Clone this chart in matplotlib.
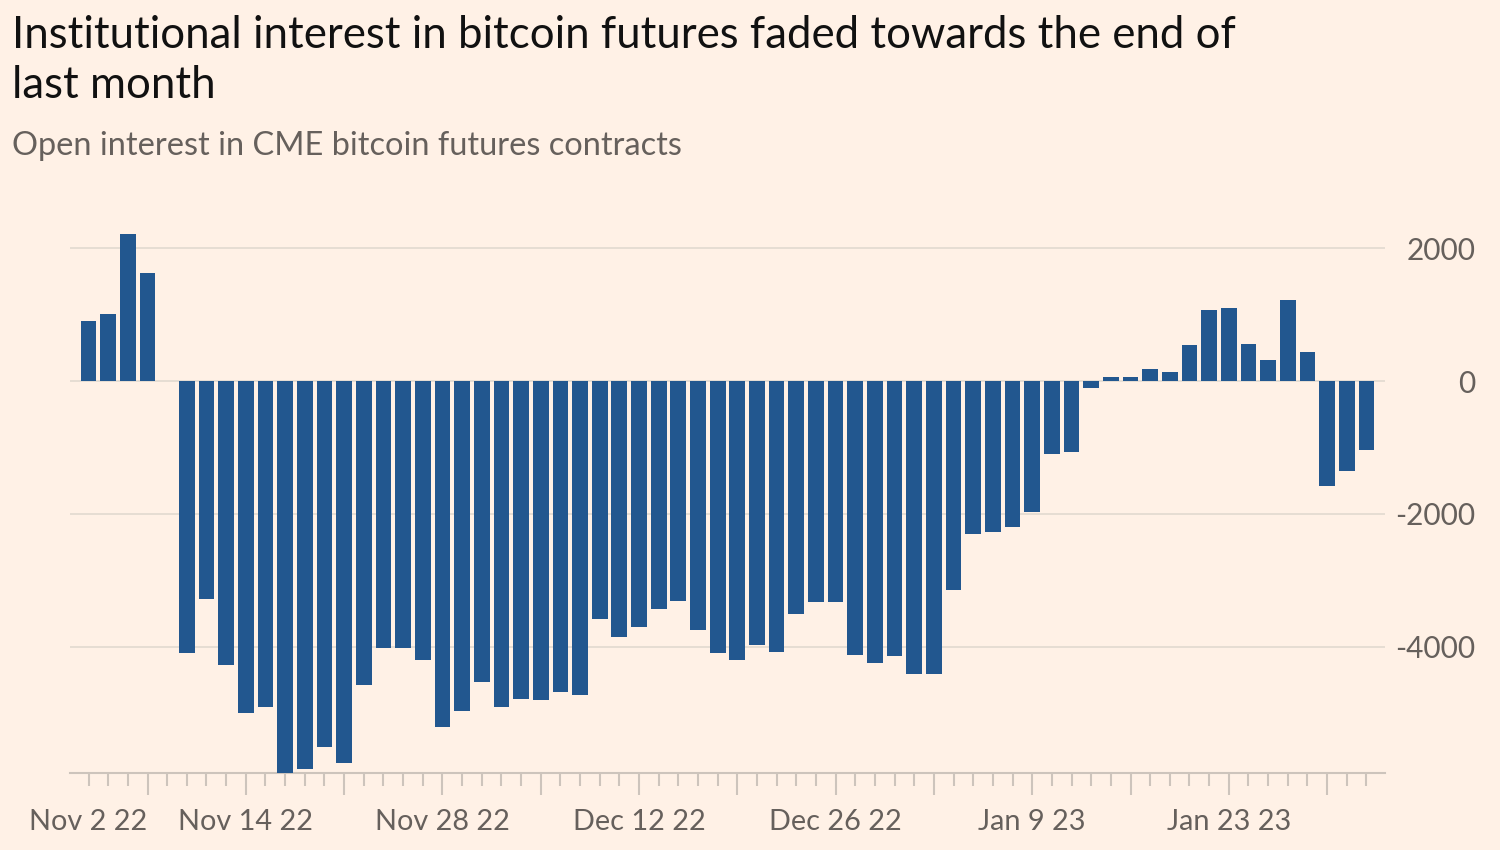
import numpy as np
import pandas as pd
import matplotlib.pyplot as plt

# daily change in open interest, CME bitcoin futures (business days Nov 2 22 .. Feb 1 23)
dates = pd.bdate_range('2022-11-02', '2023-02-01')
values = [899, 1014, 2219, 1625, np.nan, -4087, -3280, -4277, -4997, -4911,
          -5902, -5833, -5516, -5747, -4582, -4017, -4017, -4202, -5205, -4969,
          -4536, -4911, -4784, -4807, -4680, -4727, -3585, -3845, -3700, -3424,
          -3303, -3741, -4092, -4202, -3977, -4075, -3504, -3320, -3320, -4121,
          -4248, -4144, -4404, -4404, -3141, -2300, -2265, -2190, -1971, -1101,
          -1066, -98, 63, 63, 190, 133, 548, 1066, 1095, 553,
          323, 1228, 432, -1585, -1349, -1032]
label_dates = ['2022-11-02', '2022-11-14', '2022-11-28', '2022-12-12',
               '2022-12-26', '2023-01-09', '2023-01-23']
yticks = [-4000, -2000, 0, 2000]

title_lines = ['Institutional interest in bitcoin futures faded towards the end of',
               'last month']
subtitle = 'Open interest in CME bitcoin futures contracts'

BG = '#fff1e6'
BAR = '#22578f'
GRID = '#e4dbd2'
AXIS = '#cdc4bc'
TXT = '#66605c'


def main():
    plt.rcParams['font.family'] = ['Lato', 'DejaVu Sans']
    plt.rcParams['axes.unicode_minus'] = False

    fig = plt.figure(figsize=(15, 8.5), dpi=100, facecolor=BG)
    ax = fig.add_axes([0.0467, 0.0906, 0.8767, 0.6407], facecolor=BG)

    x = np.arange(len(dates))
    ax.bar(x, values, width=0.8, color=BAR, zorder=3)

    ax.set_xlim(-0.94, 65.95)
    ax.set_ylim(-5900, 2300)

    # y axis on the right, gridlines only
    ax.yaxis.tick_right()
    ax.set_yticks(yticks)
    ax.set_yticklabels([str(v) for v in yticks])
    ax.tick_params(axis='y', length=0, pad=65, labelsize=21.5, labelcolor=TXT)
    for lab in ax.get_yticklabels():
        lab.set_horizontalalignment('right')
    ax.grid(axis='y', color=GRID, linewidth=1.3, zorder=0)

    for s in ['top', 'left', 'right']:
        ax.spines[s].set_visible(False)
    ax.spines['bottom'].set_color(AXIS)
    ax.spines['bottom'].set_linewidth(1.5)

    # one tick per trading day, longer ones on Mondays
    mondays = [i for i, d in enumerate(dates) if d.weekday() == 0]
    ax.set_xticks(mondays)
    ax.set_xticks(x, minor=True)
    ax.set_xticklabels([])
    ax.tick_params(axis='x', which='major', length=16, width=1.5, color=AXIS)
    ax.tick_params(axis='x', which='minor', length=9, width=1.5, color=AXIS)

    trans = ax.get_xaxis_transform()
    for ld in label_dates:
        d = pd.Timestamp(ld)
        i = list(dates).index(d)
        txt = f"{d.strftime('%b')} {d.day} {d.strftime('%y')}"
        ax.annotate(txt, xy=(i, 0), xycoords=trans, xytext=(0, -35),
                    textcoords='offset points', ha='center', va='center',
                    fontsize=20.8, color=TXT, annotation_clip=False)

    fig.text(0.008, 1 - 48 / 850, title_lines[0], ha='left', va='baseline',
             fontsize=31.5, color='#111111')
    fig.text(0.008, 1 - 98 / 850, title_lines[1], ha='left', va='baseline',
             fontsize=31.5, color='#111111')
    fig.text(0.008, 1 - 155 / 850, subtitle, ha='left', va='baseline',
             fontsize=23.4, color=TXT)

    fig.savefig('out.png', dpi=100, facecolor=BG)


if __name__ == "__main__":
    main()
